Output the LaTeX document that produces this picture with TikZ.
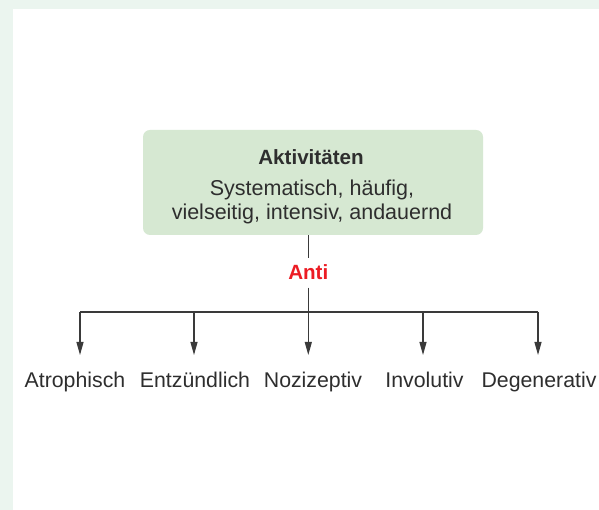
\documentclass[tikz,border=0pt]{standalone}
\usepackage{fontspec}
\setmainfont{Liberation Sans}
\usetikzlibrary{arrows.meta}
\definecolor{framecol}{HTML}{EBF5EF}
\definecolor{boxfill}{HTML}{D6E8D2}
\definecolor{ink}{HTML}{2E2E2E}
\definecolor{linecol}{HTML}{3A3A3A}
\definecolor{antired}{HTML}{EC1C24}
\begin{document}
\begin{tikzpicture}[x=1pt,y=1pt,
  box/.style={fill=boxfill,rounded corners=7pt,minimum width=340pt,minimum height=105pt,inner sep=0pt},
  titletext/.style={font=\fontsize{20.6}{24}\selectfont\bfseries,text=ink,anchor=base,inner sep=0pt},
  bodytext/.style={font=\fontsize{21.5}{26}\selectfont,text=ink,anchor=base,inner sep=0pt},
  antitext/.style={font=\fontsize{20.6}{24}\selectfont\bfseries,text=antired,anchor=base,inner sep=0pt,outer sep=7.5pt},
  leaftext/.style={font=\fontsize{21.3}{26}\selectfont,text=ink,anchor=base,inner sep=0pt},
  conn/.style={draw=linecol,line width=1.1pt},
  arr/.style={conn,-{Triangle[length=13pt,width=7pt]}}
]
\useasboundingbox (0,0) rectangle (599,510);
\fill[framecol] (0,0) rectangle (599,510);
\fill[white] (13,0) rectangle (599,501);

\node[box] (act) at (313,327.5) {};
\node[titletext] (title) at (311,345) {Aktivitäten};
\node[bodytext] (line1) at (312,314) {Systematisch, häufig,};
\node[bodytext] (line2) at (312,290) {vielseitig, intensiv, andauernd};
\node[antitext] (anti) at (308.3,230) {Anti};

\coordinate (j) at (308.3,198);
\coordinate (hl) at (80,198);
\coordinate (hr) at (538,198);

\draw[conn] (act.south -| anti.base) -- (anti.north);
\draw[conn] (anti.south) -- (j);
\draw[conn] (hl) -- (hr);

\coordinate (b1) at (80,198);
\coordinate (b2) at (194,198);
\coordinate (b3) at (308.3,198);
\coordinate (b4) at (423,198);
\coordinate (b5) at (538,198);
\coordinate (e1) at (80,155);
\coordinate (e2) at (194,155);
\coordinate (e3) at (308.3,155);
\coordinate (e4) at (423,155);
\coordinate (e5) at (538,155);

\draw[arr] (b1) -- (e1);
\draw[arr] (b2) -- (e2);
\draw[arr] (b3) -- (e3);
\draw[arr] (b4) -- (e4);
\draw[arr] (b5) -- (e5);

\node[leaftext] (n1) at (75,122) {Atrophisch};
\node[leaftext] (n2) at (195,122) {Entzündlich};
\node[leaftext] (n3) at (313,122) {Nozizeptiv};
\node[leaftext] (n4) at (424.5,122) {Involutiv};
\node[leaftext] (n5) at (539,122) {Degenerativ};
\end{tikzpicture}
\end{document}
